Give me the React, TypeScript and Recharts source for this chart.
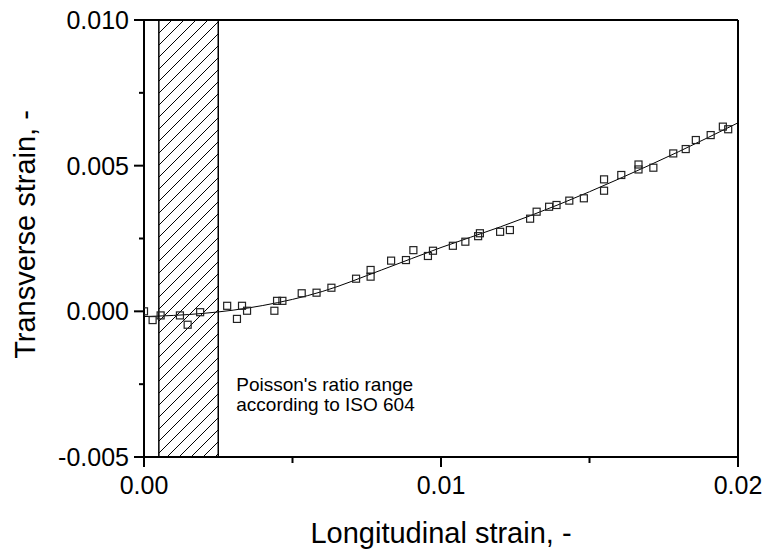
import React from 'react';
import { ComposedChart, Scatter, Line, XAxis, YAxis, ReferenceArea, ReferenceLine } from 'recharts';

// Measured points (longitudinal strain, transverse strain)
const measuredX = [
  0, 0.00029, 0.00056, 0.00121, 0.00147, 0.00189, 0.0028, 0.00313, 0.0033, 0.00347,
  0.00439, 0.00448, 0.00466, 0.00531, 0.00581, 0.00631, 0.00714, 0.00763, 0.00763, 0.00832,
  0.00882, 0.00907, 0.00956, 0.00973, 0.0104, 0.01082, 0.01125, 0.01131, 0.01199, 0.01232,
  0.013, 0.01322, 0.01364, 0.01389, 0.01432, 0.01481, 0.01549, 0.01549, 0.01607, 0.01665,
  0.01665, 0.01715, 0.01782, 0.01824, 0.01858, 0.01908, 0.01949, 0.01967,
];
const measuredY = [
  0.0, -0.0003, -0.00014, -0.00014, -0.00046, -0.00003, 0.00019, -0.00026, 0.00019, 0.00002,
  0.00002, 0.00036, 0.00036, 0.00062, 0.00064, 0.00081, 0.00112, 0.00142, 0.00119, 0.00174,
  0.00176, 0.0021, 0.0019, 0.00208, 0.00225, 0.00239, 0.00258, 0.00268, 0.00273, 0.00279,
  0.00318, 0.00342, 0.00359, 0.00365, 0.0038, 0.00388, 0.00414, 0.00453, 0.00468, 0.00504,
  0.00487, 0.00493, 0.00542, 0.00557, 0.00588, 0.00605, 0.00634, 0.00625,
];

// Fitted curve
const fitX = [0, 0.001, 0.002, 0.003, 0.004, 0.006, 0.008, 0.01, 0.012, 0.014, 0.016, 0.018, 0.02];
const fitY = [-0.00018, -0.00014, -0.00007, 0.00004, 0.0002, 0.00068, 0.00142, 0.00219, 0.0029, 0.00368, 0.00455, 0.00548, 0.00647];

// ISO 604 Poisson's ratio range
const isoRange = [0.0005, 0.0025];
const annotationLines = ["Poisson's ratio range", 'according to ISO 604'];

const xMajorTicks = [0, 0.01, 0.02];
const xMajorLabels = ['0.00', '0.01', '0.02'];
const xMinorTicks = [0.005, 0.015];
const yMajorTicks = [-0.005, 0, 0.005, 0.01];
const yMajorLabels = ['-0.005', '0.000', '0.005', '0.010'];
const yMinorTicks = [-0.0025, 0.0025, 0.0075];

const xAxisTitle = 'Longitudinal strain, -';
const yAxisTitle = 'Transverse strain, -';

const scatterData = measuredX.map((x, i) => ({ x, y: measuredY[i] }));
const fitData = fitX.map((x, i) => ({ x, y: fitY[i] }));
const xTicks = [...xMajorTicks, ...xMinorTicks].sort((a, b) => a - b);
const yTicks = [...yMajorTicks, ...yMinorTicks].sort((a, b) => a - b);

const FONT = '"Liberation Sans", Arial, Helvetica, sans-serif';

const XTick = (props: any) => {
  const { x, y, payload } = props;
  const idx = xMajorTicks.indexOf(payload.value);
  const major = idx >= 0;
  return (
    <g>
      <line x1={x} y1={y} x2={x} y2={y + (major ? 10 : 6)} stroke="#000" strokeWidth={2} />
      {major && (
        <text x={x} y={y + 37} textAnchor="middle" fontSize={25} fontFamily={FONT} fill="#000">
          {xMajorLabels[idx]}
        </text>
      )}
    </g>
  );
};

const YTick = (props: any) => {
  const { x, y, payload } = props;
  const idx = yMajorTicks.indexOf(payload.value);
  const major = idx >= 0;
  return (
    <g>
      <line x1={x} y1={y} x2={x - (major ? 10 : 5)} y2={y} stroke="#000" strokeWidth={2} />
      {major && (
        <text x={x - 15} y={y + 9} textAnchor="end" fontSize={25} fontFamily={FONT} fill="#000">
          {yMajorLabels[idx]}
        </text>
      )}
    </g>
  );
};

const SquareShape = (props: any) => {
  const { cx, cy } = props;
  if (cx == null || cy == null) return null;
  return <rect x={cx - 3.5} y={cy - 3.5} width={7} height={7} fill="none" stroke="#222" strokeWidth={1.2} />;
};

const AnnotationLabel = (props: any) => {
  const vb = props.viewBox || {};
  const x0 = vb.x + vb.width + 18;
  return (
    <g>
      {annotationLines.map((t, i) => (
        <text key={i} x={x0} y={391 + i * 19.5} fontSize={19} fontFamily={FONT} fill="#000">
          {t}
        </text>
      ))}
    </g>
  );
};

const YTitle = (props: any) => {
  const vb = props.viewBox || {};
  const cy = vb.y + vb.height / 2;
  return (
    <text
      transform={`translate(35, ${cy - 4}) rotate(-90)`}
      textAnchor="middle"
      fontSize={29}
      fontFamily={FONT}
      fill="#000"
    >
      {yAxisTitle}
    </text>
  );
};

export default function App() {
  return (
    <div style={{ position: 'absolute', top: 0, left: 0 }}>
      <svg width={0} height={0} style={{ position: 'absolute' }}>
        <defs>
          <pattern id="hatch" patternUnits="userSpaceOnUse" width={12} height={12}>
            <line x1={0} y1={12} x2={12} y2={0} stroke="#000" strokeWidth={1} />
            <line x1={-2} y1={2} x2={2} y2={-2} stroke="#000" strokeWidth={1} />
            <line x1={10} y1={14} x2={14} y2={10} stroke="#000" strokeWidth={1} />
          </pattern>
        </defs>
      </svg>
      <ComposedChart
        width={766}
        height={554}
        margin={{ top: 20, right: 28, left: 0, bottom: 0 }}
        style={{ fontFamily: FONT }}
      >
        <XAxis
          dataKey="x"
          type="number"
          domain={[0, 0.02]}
          ticks={xTicks}
          interval={0}
          allowDataOverflow
          height={97}
          tickSize={0}
          tickMargin={0}
          tickLine={false}
          tick={<XTick />}
          axisLine={{ stroke: '#000', strokeWidth: 2 }}
          label={{ value: xAxisTitle, position: 'insideBottom', offset: 11, style: { fontSize: 29, fill: '#000', fontFamily: FONT } }}
        />
        <YAxis
          dataKey="y"
          type="number"
          domain={[-0.005, 0.01]}
          ticks={yTicks}
          interval={0}
          allowDataOverflow
          width={144}
          tickSize={0}
          tickMargin={0}
          tickLine={false}
          tick={<YTick />}
          axisLine={{ stroke: '#000', strokeWidth: 2 }}
          label={<YTitle />}
        />
        <ReferenceArea
          x1={isoRange[0]}
          x2={isoRange[1]}
          fill="url(#hatch)"
          fillOpacity={1}
          stroke="#000"
          strokeWidth={1.5}
          ifOverflow="visible"
          label={<AnnotationLabel />}
        />
        <ReferenceLine y={0.01} stroke="#000" strokeWidth={2} />
        <ReferenceLine x={0.02} stroke="#000" strokeWidth={2} />
        <Line
          data={fitData}
          dataKey="y"
          type="monotone"
          stroke="#000"
          strokeWidth={1}
          dot={false}
          activeDot={false}
          isAnimationActive={false}
        />
        <Scatter data={scatterData} dataKey="y" shape={<SquareShape />} isAnimationActive={false} />
      </ComposedChart>
    </div>
  );
}
